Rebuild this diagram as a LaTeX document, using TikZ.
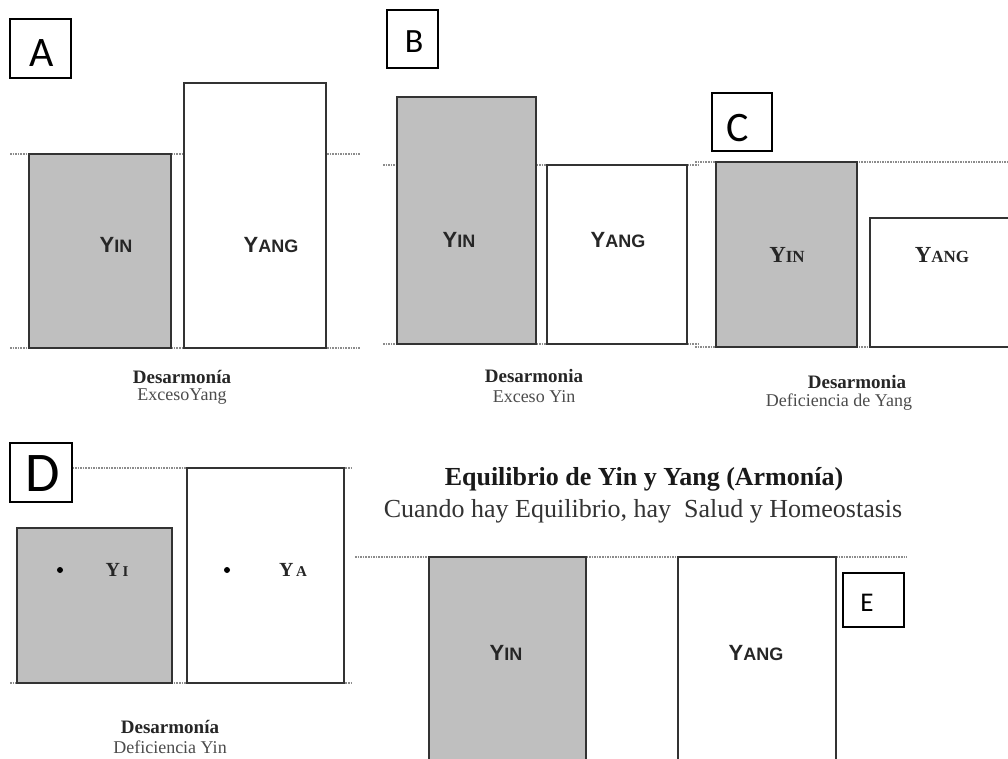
\documentclass[tikz,border=0pt]{standalone}
\usepackage{fontspec}
\setmainfont{Liberation Serif}
\setsansfont{Liberation Sans}
\newfontfamily\tagfont{Carlito}
% small-caps style word: large initial Y, smaller rest
\newcommand\capword[3]{{\fontsize{#1}{#1}\selectfont Y}{\fontsize{#2}{#2}\selectfont #3}}
\begin{document}
\begin{tikzpicture}[x=1pt,y=-1pt,
  bar/.style={draw=black!80, line width=2pt},
  yinbar/.style={bar, fill=black!25},
  yangbar/.style={bar, fill=white},
  level/.style={draw=black!45, line width=1.6pt, densely dotted},
  tagbox/.style={draw=black, line width=1.3pt, fill=white},
  tag/.style={inner sep=0pt, font=\tagfont},
  sanslbl/.style={inner sep=0pt, text=black!85, font=\sffamily\bfseries},
  seriflbl/.style={inner sep=0pt, text=black!85, font=\bfseries},
  caphead/.style={anchor=base, inner sep=0pt, text=black!85,
    font=\bfseries\fontsize{19}{19}\selectfont},
  capline/.style={anchor=base, inner sep=0pt, text=black!70,
    font=\fontsize{18}{18}\selectfont},
]
\useasboundingbox (0,0) rectangle (1008,759);
\clip (0,0) rectangle (1008,759);
\fill[white] (0,0) rectangle (1008,759);

% ---- reference levels (dotted) ----
\draw[level] (10,154) -- (360,154);
\draw[level] (10,348) -- (360,348);
\draw[level] (383,165) -- (700,165);
\draw[level] (383,344) -- (700,344);
\draw[level] (695,162) -- (1008,162);
\draw[level] (695,347) -- (1008,347);
\draw[level] (10,468) -- (352,468);
\draw[level] (10,683) -- (352,683);
\draw[level] (355,557) -- (907,557);

% ---- A: excess of Yang ----
\draw[yinbar]  (29,154) rectangle (171,348);
\draw[yangbar] (184,83) rectangle (326,348);
\draw[tagbox]  (10,19) rectangle (71,78);
\node[tag, font=\tagfont\fontsize{42}{42}\selectfont] (tagA) at (42,53) {A};
\node[sanslbl] (aYin)  at (116,245) {\capword{22}{18}{IN}};
\node[sanslbl] (aYang) at (271,245) {\capword{22}{18}{ANG}};
\node[caphead] (aHead) at (182,383) {Desarmonía};
\node[capline] (aLine) at (182,400) {ExcesoYang};

% ---- B: excess of Yin ----
\draw[yinbar]  (397,97) rectangle (536,344);
\draw[yangbar] (547,165) rectangle (687,344);
\draw[tagbox]  (387,10) rectangle (438,68);
\node[tag, font=\tagfont\fontsize{34}{34}\selectfont] (tagB) at (414,42) {B};
\node[sanslbl] (bYin)  at (459,240) {\capword{22}{18}{IN}};
\node[sanslbl] (bYang) at (618,240) {\capword{22}{18}{ANG}};
\node[caphead] (bHead) at (534,382) {Desarmonia};
\node[capline] (bLine) at (534,402) {Exceso Yin};

% ---- C: deficiency of Yang ----
\draw[yinbar]  (716,162) rectangle (857,347);
\draw[yangbar] (870,218) rectangle (1015,347);
\draw[tagbox]  (712,93) rectangle (772,151);
\node[tag, font=\tagfont\fontsize{42}{42}\selectfont] (tagC) at (738,128) {C};
\node[seriflbl] (cYin)  at (787,255) {\capword{23}{17}{IN}};
\node[seriflbl] (cYang) at (942,255) {\capword{23}{17}{ANG}};
\node[caphead] (cHead) at (857,388) {Desarmonia};
\node[capline] (cLine) at (839,406) {Deficiencia de Yang};

% ---- D: deficiency of Yin ----
\draw[yinbar]  (17,528) rectangle (172,683);
\draw[yangbar] (187,468) rectangle (344,683);
\draw[tagbox]  (10,443) rectangle (72,502);
\node[tag, font=\tagfont\fontsize{56}{56}\selectfont] (tagD) at (43,474) {D};
\fill[black] (60,570) circle (3);
\fill[black] (227,570) circle (3);
\node[seriflbl] (dYin)  at (117,570) {\capword{20}{15}{\,I}};
\node[seriflbl] (dYang) at (293,570) {\capword{20}{15}{\,A}};
\node[caphead] (dHead) at (170,733) {Desarmonía};
\node[capline] (dLine) at (170,753) {Deficiencia Yin};

% ---- E: balance ----
\node[anchor=base, inner sep=0pt, text=black!90,
  font=\bfseries\fontsize{26}{26}\selectfont] (eHead) at (644,485)
  {Equilibrio de Yin y Yang (Armonía)};
\node[anchor=base, inner sep=0pt, text=black!80,
  font=\fontsize{26}{26}\selectfont] (eLine) at (643,517)
  {Cuando hay Equilibrio, hay\ \ Salud y Homeostasis};
\draw[yinbar]  (429,557) rectangle (586,770);
\draw[yangbar] (678,557) rectangle (836,770);
\draw[tagbox]  (843,573) rectangle (904,627);
\node[tag, font=\tagfont\fontsize{27}{27}\selectfont] (tagE) at (867,603) {E};
\node[sanslbl] (eYin)  at (506,653) {\capword{22}{18}{IN}};
\node[sanslbl] (eYang) at (756,653) {\capword{22}{18}{ANG}};
\end{tikzpicture}
\end{document}
